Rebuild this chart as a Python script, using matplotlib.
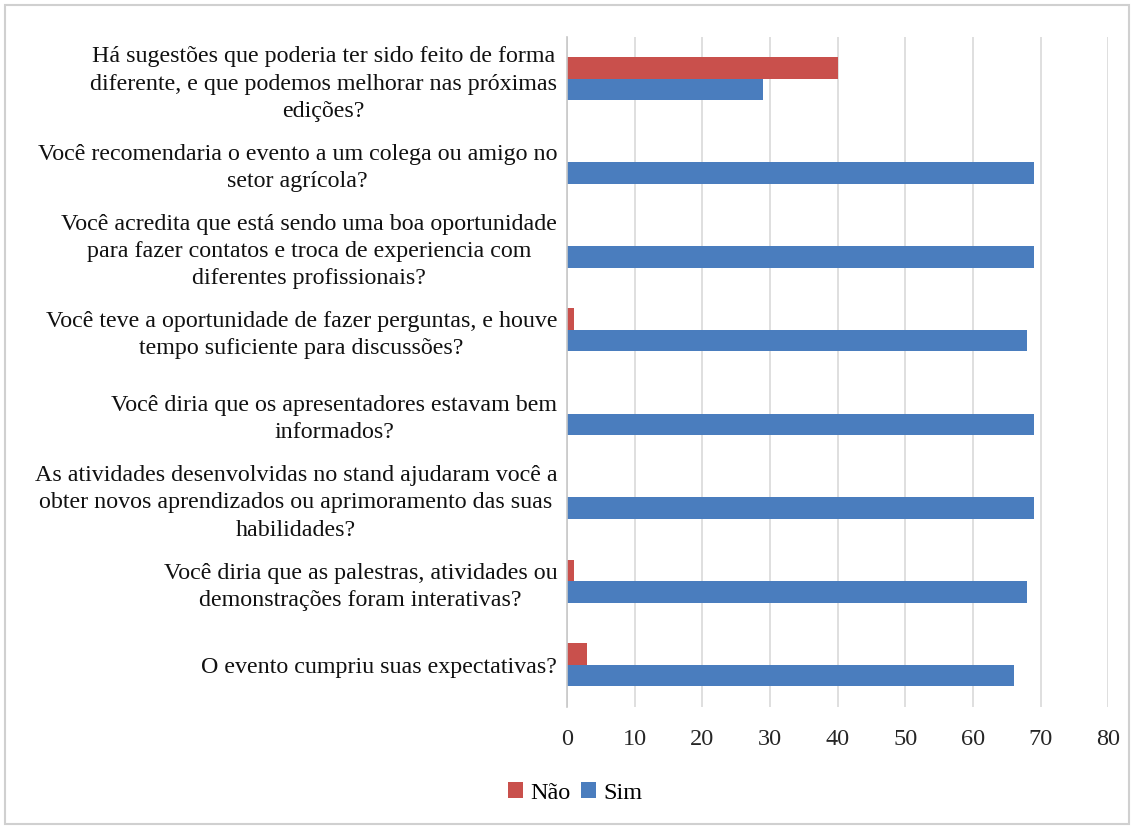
import matplotlib
matplotlib.use("Agg")
import matplotlib.pyplot as plt
from matplotlib.patches import Rectangle

categories = [
    "Há sugestões que poderia ter sido feito de forma\ndiferente, e que podemos melhorar nas próximas\nedições?",
    "Você recomendaria o evento a um colega ou amigo no\nsetor agrícola?",
    "Você acredita que está sendo uma boa oportunidade\npara fazer contatos e troca de experiencia com\ndiferentes profissionais?",
    "Você teve a oportunidade de fazer perguntas, e houve\ntempo suficiente para discussões?",
    "Você diria que os apresentadores estavam bem\ninformados?",
    "As atividades desenvolvidas no stand ajudaram você a\nobter novos aprendizados ou aprimoramento das suas\nhabilidades?",
    "Você diria que as palestras, atividades ou\ndemonstrações foram interativas?",
    "O evento cumpriu suas expectativas?",
]
nao = [40, 0, 0, 1, 0, 0, 1, 3]
sim = [29, 69, 69, 68, 69, 69, 68, 66]
x_ticks = [0, 10, 20, 30, 40, 50, 60, 70, 80]
series_names = ["Não", "Sim"]

RED = "#C9504C"
BLUE = "#4A7DBE"
GRID = "#D9D9D9"

plt.rcParams["font.family"] = ["Liberation Serif", "DejaVu Serif"]

fig = plt.figure(figsize=(11.34, 8.27), dpi=100)
fig.patch.set_facecolor("white")
ax = fig.add_axes([0.5, 0.1453, 0.4775, 0.8104])

h = 0.257
pos = list(range(len(categories)))
ax.barh([p - h / 2 for p in pos], nao, height=h, color=RED, label=series_names[0], zorder=3)
ax.barh([p + h / 2 for p in pos], sim, height=h, color=BLUE, label=series_names[1], zorder=3)

ax.set_ylim(len(categories) - 0.5, -0.5)
ax.set_xlim(x_ticks[0], x_ticks[-1])
ax.set_xticks(x_ticks)
ax.set_xticklabels([str(t) for t in x_ticks], fontsize=17.5, color="#262626")
ax.set_yticks(pos)
ax.set_yticklabels(categories, fontsize=17.3, color="#111111",
                   multialignment="center", linespacing=1.38)
ax.tick_params(axis="both", length=0)
ax.tick_params(axis="x", pad=16)
ax.tick_params(axis="y", pad=7)

ax.grid(axis="x", color=GRID, linewidth=1.2, zorder=0)
for s in ["top", "right", "bottom"]:
    ax.spines[s].set_visible(False)
ax.spines["left"].set_color("#C8C8C8")
ax.spines["left"].set_linewidth(1.2)
ax.spines["left"].set_zorder(4)

fig.legend(loc="center", bbox_to_anchor=(0.507, 0.041), ncol=2, frameon=False,
           fontsize=17.5, handlelength=0.62, handleheight=0.62, handletextpad=0.3,
           columnspacing=0.42)

# light frame around the chart area
fig.add_artist(Rectangle((0.004, 0.004), 0.992, 0.990, transform=fig.transFigure,
                         fill=False, edgecolor="#D0D0D0", linewidth=1.5))

fig.savefig("out.png", dpi=100)
